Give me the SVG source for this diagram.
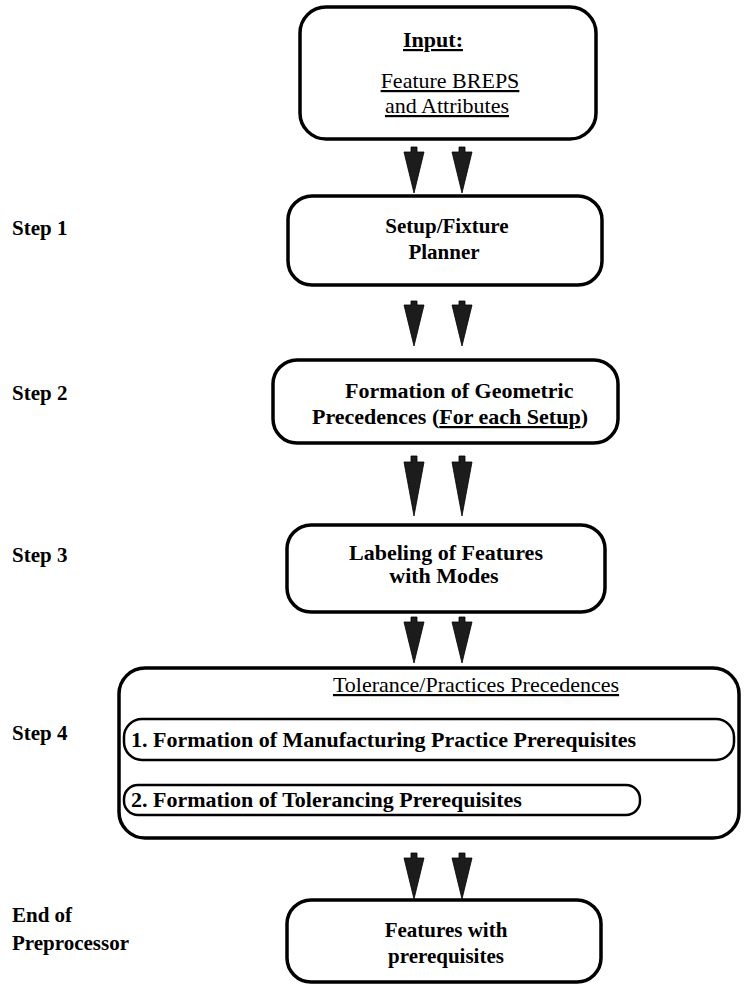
<svg xmlns="http://www.w3.org/2000/svg" width="744" height="984" viewBox="0 0 744 984">
<style>
.box{fill:#fff;stroke:#000;stroke-width:3.5}
.inner{fill:#fff;stroke:#000;stroke-width:2.5}
.arr{fill:#1c1c1c;stroke:#000;stroke-width:0.8}
.t{font-family:"Liberation Serif","Times New Roman",serif;font-size:21px;font-weight:bold;fill:#000}
.r{font-family:"Liberation Serif","Times New Roman",serif;font-size:22px;fill:#000}
.u{text-decoration:underline}
.m{text-anchor:middle}
</style>
<rect width="744" height="984" fill="#fff"/>
<g id="labels">
<text class="t" x="12" y="235">Step 1</text>
<text class="t" x="12" y="400">Step 2</text>
<text class="t" x="12" y="562">Step 3</text>
<text class="t" x="12" y="740">Step 4</text>
<text class="t" x="12" y="922">End of</text>
<text class="t" x="12" y="950">Preprocessor</text>
</g>
<g id="input">
<rect class="box" x="300" y="7" width="296" height="132" rx="26"/>
<text class="r m u" x="433" y="47" style="font-weight:bold">Input:</text>
<text class="r m u" x="450" y="88">Feature BREPS</text>
<text class="r m u" x="447" y="113">and Attributes</text>
</g>
<g id="step1">
<rect class="box" x="288" y="196" width="314" height="89" rx="24"/>
<text class="t m" x="447" y="233">Setup/Fixture</text>
<text class="t m" x="444" y="259">Planner</text>
</g>
<g id="step2">
<rect class="box" x="273" y="360" width="345" height="83" rx="24"/>
<text class="t" x="345" y="398" style="font-size:22px">Formation of Geometric</text>
<text class="t" x="312" y="424" style="font-size:22px">Precedences (<tspan class="u">For each Setup</tspan>)</text>
</g>
<g id="step3">
<rect class="box" x="287" y="525" width="318" height="87" rx="24"/>
<text class="t m" x="446" y="560" style="font-size:22px">Labeling of Features</text>
<text class="t m" x="444" y="583" style="font-size:22px">with Modes</text>
</g>
<g id="step4">
<rect class="box" x="119" y="668" width="620" height="170" rx="26"/>
<text class="r m u" x="476" y="692">Tolerance/Practices Precedences</text>
<g id="prereq1">
<rect class="inner" x="124" y="719" width="610" height="41" rx="18"/>
<text class="t" x="131" y="747" style="font-size:22px">1.  Formation of Manufacturing Practice Prerequisites</text>
</g>
<g id="prereq2">
<rect class="inner" x="124" y="785" width="516" height="30" rx="14"/>
<text class="t" x="131" y="807" style="font-size:22px">2. Formation of Tolerancing Prerequisites</text>
</g>
</g>
<g id="output">
<rect class="box" x="287" y="900" width="314" height="82" rx="24"/>
<text class="t m" x="446" y="937">Features with</text>
<text class="t m" x="446" y="963">prerequisites</text>
</g>
<g id="connectors">
<path class="arr" d="M411 147h6v5h7L414 193L404 152h7z"/>
<path class="arr" d="M459 147h6v5h7L462 193L452 152h7z"/>
<path class="arr" d="M411 301h6v4h7L414 346L404 305h7z"/>
<path class="arr" d="M459 301h6v4h7L462 346L452 305h7z"/>
<path class="arr" d="M411 456h6v6h7L414 516L404 462h7z"/>
<path class="arr" d="M459 456h6v6h7L462 516L452 462h7z"/>
<path class="arr" d="M411 617h6v5h7L414 663L404 622h7z"/>
<path class="arr" d="M459 617h6v5h7L462 663L452 622h7z"/>
<path class="arr" d="M411 853h6v5h7L414 899L404 858h7z"/>
<path class="arr" d="M459 853h6v5h7L462 899L452 858h7z"/>
</g>
</svg>
